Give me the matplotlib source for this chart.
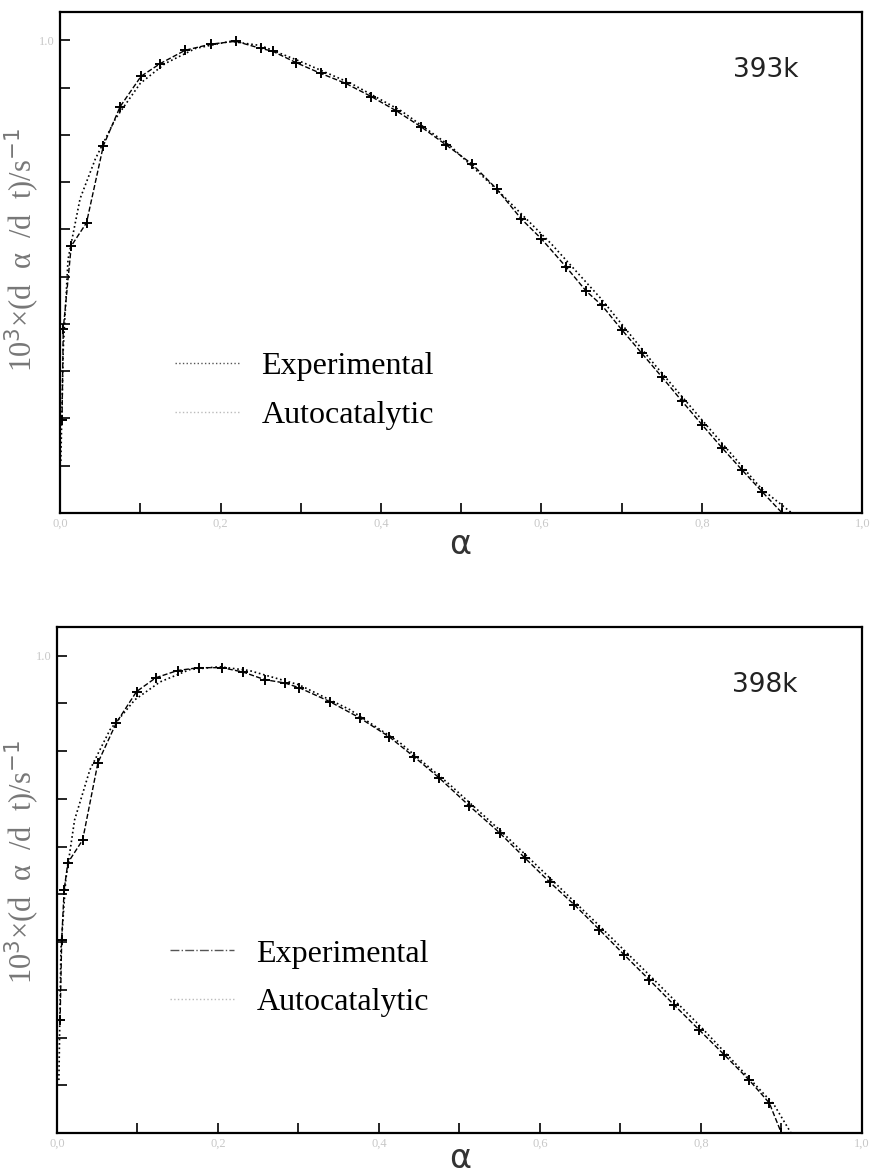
import matplotlib.pyplot as plt

# 393 K panel
a_exp_393 = [0.0025, 0.004, 0.014, 0.033, 0.054, 0.075, 0.101, 0.125, 0.156, 0.188,
             0.219, 0.25, 0.265, 0.294, 0.325, 0.356, 0.388, 0.419, 0.45, 0.481,
             0.513, 0.544, 0.575, 0.60, 0.631, 0.656, 0.675, 0.70, 0.725, 0.75,
             0.775, 0.80, 0.825, 0.85, 0.875, 0.90]
r_exp_393 = [0.197, 0.389, 0.565, 0.614, 0.777, 0.860, 0.924, 0.951, 0.979, 0.992,
             0.998, 0.983, 0.977, 0.953, 0.930, 0.909, 0.881, 0.851, 0.817, 0.779,
             0.739, 0.686, 0.622, 0.580, 0.520, 0.469, 0.440, 0.388, 0.338, 0.288,
             0.237, 0.187, 0.138, 0.091, 0.045, 0.0]
a_fit_393 = [0.001, 0.004, 0.01, 0.025, 0.044, 0.069, 0.10, 0.131, 0.169, 0.2125,
             0.25, 0.30, 0.3625, 0.425, 0.4875, 0.55, 0.6125, 0.675, 0.7375, 0.80,
             0.8625, 0.875, 0.912]
r_fit_393 = [0.11, 0.346, 0.537, 0.665, 0.749, 0.834, 0.909, 0.951, 0.983, 0.998,
             0.989, 0.955, 0.909, 0.851, 0.775, 0.675, 0.569, 0.452, 0.321, 0.197,
             0.074, 0.050, 0.0]

# 398 K panel
a_exp_398 = [0.004, 0.006, 0.009, 0.0136, 0.032, 0.051, 0.074, 0.099, 0.123, 0.150,
             0.176, 0.205, 0.231, 0.258, 0.283, 0.301, 0.339, 0.376, 0.413, 0.444,
             0.475, 0.512, 0.550, 0.581, 0.612, 0.643, 0.674, 0.705, 0.736, 0.767,
             0.798, 0.829, 0.860, 0.885, 0.90]
r_exp_398 = [0.237, 0.405, 0.509, 0.566, 0.614, 0.776, 0.860, 0.925, 0.954, 0.969,
             0.975, 0.975, 0.966, 0.950, 0.943, 0.933, 0.904, 0.870, 0.830, 0.788,
             0.744, 0.686, 0.629, 0.577, 0.526, 0.478, 0.426, 0.373, 0.321, 0.268,
             0.216, 0.164, 0.111, 0.063, 0.0]
a_fit_398 = [0.0025, 0.005, 0.011, 0.022, 0.041, 0.066, 0.097, 0.128, 0.165, 0.202,
             0.239, 0.301, 0.364, 0.426, 0.488, 0.550, 0.612, 0.674, 0.736, 0.798,
             0.860, 0.891, 0.912]
r_fit_398 = [0.111, 0.384, 0.530, 0.656, 0.761, 0.845, 0.908, 0.945, 0.971, 0.977,
             0.969, 0.939, 0.887, 0.818, 0.730, 0.635, 0.535, 0.434, 0.331, 0.226,
             0.115, 0.059, 0.0]

# name, data, axes rect, legend line style, legend anchor, x-label y px, y-label centre px
panels = [
    ("393k", a_exp_393, r_exp_393, a_fit_393, r_fit_393, [0.0686, 0.5634, 0.917, 0.4264],
     ":", (0.1075, 0.244), 545, 250),
    ("398k", a_exp_398, r_exp_398, a_fit_398, r_fit_398, [0.065, 0.0357, 0.920, 0.4306],
     "-.", (0.105, 0.306), 1158, 862),
]

x_ticks = [i / 10 for i in range(11)]
x_labels = ["0,0" if i == 0 else ("%.1f" % (i / 10)).replace(".", ",") if i % 2 == 0 else ""
            for i in range(11)]
y_ticks = [i / 10 for i in range(11)]

fig = plt.figure(figsize=(8.75, 11.75), dpi=100)

for name, ax_e, ry_e, ax_f, ry_f, rect, leg_ls, leg_anchor, xlab_y, ylab_y in panels:
    ax = fig.add_axes(rect)
    ax.plot(ax_e, ry_e, linestyle="--", color="black", linewidth=1.0,
            marker="+", markersize=7, markeredgewidth=1.4)
    ax.plot(ax_f, ry_f, linestyle=":", color="black", linewidth=1.2)
    ax.set_xlim(0, 1.0)
    ax.set_ylim(0, 1.06)
    ax.set_xticks(x_ticks)
    ax.set_xticklabels(x_labels, color="#c8c8c8", fontsize=9, family="Liberation Serif")
    ax.set_yticks(y_ticks)
    ax.set_yticklabels([""] * 10 + ["1.0"], color="#c8c8c8", fontsize=9, family="Liberation Serif")
    ax.tick_params(direction="in", length=7, width=1.2, top=False, right=False)
    for s in ax.spines.values():
        s.set_linewidth(1.6)
    # axis titles placed in figure pixels so they stay inside the canvas
    fig.text(460 / 875, 1 - xlab_y / 1175, "α", fontsize=24, family="DejaVu Sans",
             color="#333333", ha="center", va="center")
    fig.text(22 / 875, 1 - ylab_y / 1175, "10$^3$×(d  α  /d  t)/s$^{-1}$", fontsize=22,
             family="Liberation Serif", color="#777777", rotation=90,
             ha="center", va="center")
    ax.text(0.92, 0.885, name, transform=ax.transAxes, ha="right", va="center",
            fontsize=19, family="DejaVu Sans", color="#222222")
    h_exp = plt.Line2D([], [], color="#555555", linestyle=leg_ls, linewidth=1.0)
    h_fit = plt.Line2D([], [], color="#bbbbbb", linestyle=":", linewidth=1.0)
    ax.legend([h_exp, h_fit], ["Experimental", "Autocatalytic"], loc="center left",
              bbox_to_anchor=leg_anchor, frameon=False, handlelength=2.0,
              handletextpad=0.7, labelspacing=0.6,
              prop={"family": "Liberation Serif", "size": 23})

fig.savefig("out.png", dpi=100)
